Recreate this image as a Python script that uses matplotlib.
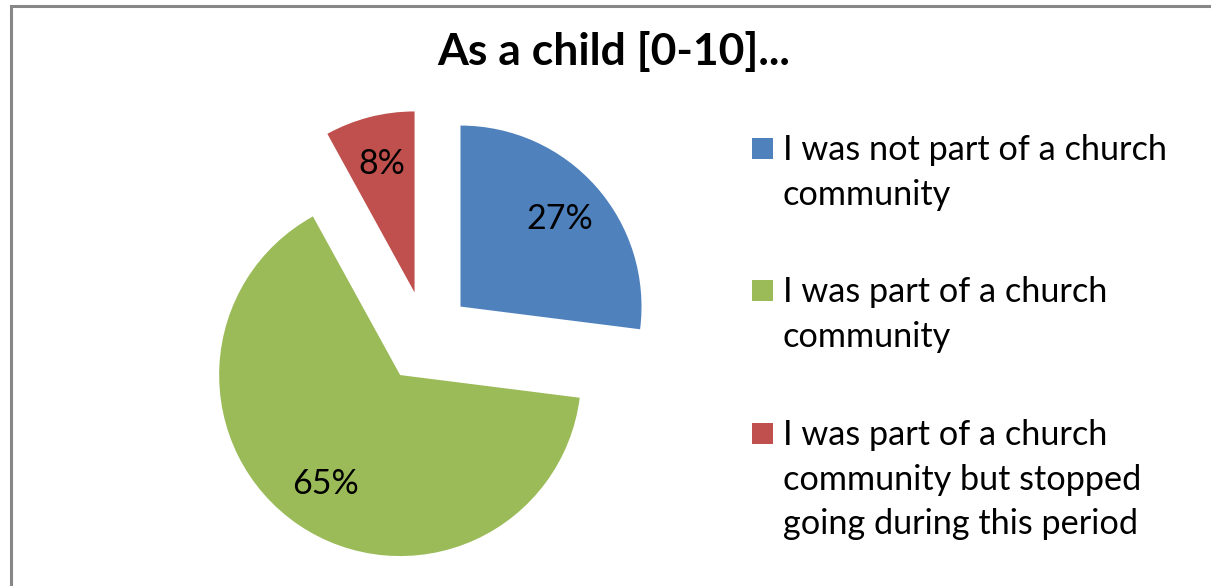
import matplotlib
matplotlib.use("Agg")
import matplotlib.pyplot as plt
from matplotlib.patches import Rectangle

# chart data
labels = [
    "I was not part of a church\ncommunity",
    "I was part of a church\ncommunity",
    "I was part of a church\ncommunity but stopped\ngoing during this period",
]
shares = [27, 65, 8]
colors = ["#4F81BD", "#9BBB59", "#C0504D"]
title = "As a child [0-10]..."

W, H = 1211, 586
plt.rcParams["font.family"] = ["Lato", "DejaVu Sans"]

fig = plt.figure(figsize=(W / 100, H / 100), dpi=100)
ax = fig.add_axes([0, 0, 1, 1])

# frame of the chart area (runs off the right and bottom edge)
ax.add_patch(Rectangle((10.5, -20), W + 50, H - 5.5 + 20, fill=False,
                       edgecolor="#878787", linewidth=2.2))

# pie, starting at 12 o'clock, clockwise, every slice pulled out
radius = 181
ax.pie(shares, colors=colors, startangle=90, counterclock=False,
       center=(426, H - 337), radius=radius, explode=[46] * len(shares),
       autopct="%d%%", pctdistance=0.73, frame=True,
       textprops={"fontsize": 24.5, "color": "black"},
       wedgeprops={"linewidth": 0})
ax.set_xlim(0, W)
ax.set_ylim(0, H)
ax.set_aspect("equal")
ax.axis("off")

ax.text(614, H - 65, title, ha="center", va="baseline",
        fontsize=32, fontweight="bold")

# legend: square aligned with the first line of each entry
leg_y = [148, 290, 433]
for lab, col, y in zip(labels, colors, leg_y):
    ax.add_patch(Rectangle((752, H - y - 10.5), 21, 21, facecolor=col,
                           edgecolor="none"))
    ax.text(783, H - y + 14, lab, ha="left", va="top", fontsize=24.7,
            linespacing=1.49)

fig.savefig("out.png", dpi=100)
